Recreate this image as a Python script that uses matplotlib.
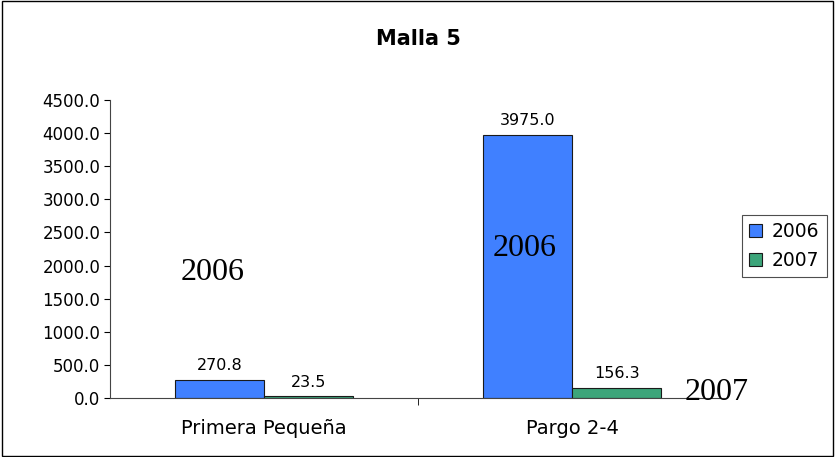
import matplotlib
matplotlib.use("Agg")
import matplotlib.pyplot as plt
import numpy as np
from matplotlib.patches import Rectangle

categories = ["Primera Pequeña", "Pargo 2-4"]
series_names = ["2006", "2007"]
values_2006 = [270.8, 3975.0]
values_2007 = [23.5, 156.3]
yticks = [0, 500, 1000, 1500, 2000, 2500, 3000, 3500, 4000, 4500]
title = "Malla 5"

colors = ["#4080FF", "#3CA57A"]

fig = plt.figure(figsize=(8.35, 4.57), dpi=100)
ax = fig.add_axes([0.1317, 0.1291, 0.7378, 0.652])

x = np.arange(len(categories))
w = 0.29
b1 = ax.bar(x - w / 2, values_2006, w, color=colors[0], edgecolor="#1a1a1a", linewidth=0.8, label=series_names[0])
b2 = ax.bar(x + w / 2, values_2007, w, color=colors[1], edgecolor="#1a1a1a", linewidth=0.8, label=series_names[1])

for bars in (b1, b2):
    for r in bars:
        ax.annotate(f"{r.get_height():.1f}", (r.get_x() + r.get_width() / 2, r.get_height()),
                    xytext=(0, 5), textcoords="offset points", ha="center", va="bottom", fontsize=11.5)

ax.set_xlim(-0.5, 1.5)
ax.set_ylim(0, 4500)
ax.set_yticks(yticks)
ax.set_yticklabels([f"{v:.1f}" for v in yticks], fontsize=12)
ax.set_xticks(x)
ax.set_xticklabels(categories, fontsize=14)
ax.tick_params(axis="x", length=0, pad=15)
ax.set_xticks([0.5], minor=True)
ax.tick_params(axis="x", which="minor", length=5, direction="out")
ax.tick_params(axis="y", length=4, direction="out", pad=3)
for s in ("top", "right"):
    ax.spines[s].set_visible(False)
ax.spines["left"].set_color("#444444")
ax.spines["bottom"].set_color("#444444")

fig.text(0.5006, 0.915, title, ha="center", va="center", fontsize=15, fontweight="bold")

leg = ax.legend(loc="center left", bbox_to_anchor=(1.01, 0.51), frameon=True, fancybox=False,
                edgecolor="#222222", fontsize=13.5, handlelength=0.7, handleheight=0.7,
                borderpad=0.4, labelspacing=0.5, handletextpad=0.5, borderaxespad=0.5)
leg.get_frame().set_linewidth(0.8)

# free-floating year labels
fig.text(213 / 835, 1 - 272 / 457, "2006", family="Liberation Serif", fontsize=23, ha="center", va="center")
fig.text(525 / 835, 1 - 248 / 457, "2006", family="Liberation Serif", fontsize=23, ha="center", va="center")
fig.text(717 / 835, 1 - 392 / 457, "2007", family="Liberation Serif", fontsize=23, ha="center", va="center")

fig.patches.append(Rectangle((0.002, 0.003), 0.996, 0.994, transform=fig.transFigure,
                             fill=False, edgecolor="black", linewidth=1))

fig.savefig("out.png", dpi=100)
